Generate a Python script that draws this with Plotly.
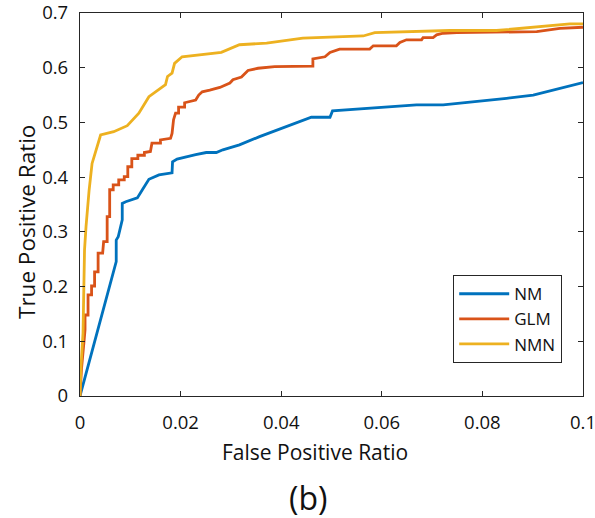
import plotly.graph_objects as go

# ROC curves (false positive ratio vs true positive ratio)
nm_fpr = [0, 0.0072, 0.0072, 0.0076, 0.0084, 0.0084, 0.0091, 0.0114, 0.0124, 0.0137,
          0.0157, 0.0183, 0.0184, 0.0193, 0.023, 0.0251, 0.0271, 0.0284, 0.0317, 0.0357,
          0.046, 0.0497, 0.0502, 0.0669, 0.0722, 0.0802, 0.0848, 0.0901, 0.1]
nm_tpr = [0, 0.2455, 0.285, 0.291, 0.322, 0.352, 0.355, 0.362, 0.377, 0.396,
          0.404, 0.408, 0.428, 0.433, 0.441, 0.445, 0.445, 0.450, 0.459, 0.474,
          0.5095, 0.5095, 0.521, 0.532, 0.532, 0.539, 0.544, 0.550, 0.573]

glm_fpr = [0, 0.0003, 0.0008, 0.001, 0.001, 0.0016, 0.0016, 0.0023, 0.0023, 0.0029,
           0.0029, 0.0036, 0.0036, 0.0045, 0.0047, 0.0054, 0.0054, 0.0059, 0.0059, 0.0066,
           0.0066, 0.0077, 0.0077, 0.0088, 0.0088, 0.0095, 0.0095, 0.0103, 0.0103, 0.0115,
           0.0115, 0.0128, 0.0128, 0.014, 0.0143, 0.016, 0.016, 0.018, 0.0183, 0.0186,
           0.019, 0.0196, 0.0196, 0.0208, 0.0208, 0.023, 0.0236, 0.0243, 0.0258, 0.0278,
           0.0298, 0.0304, 0.0321, 0.0334, 0.0354, 0.0387, 0.0463, 0.0463, 0.0487, 0.0497,
           0.0516, 0.0576, 0.0583, 0.0629, 0.0636, 0.0649, 0.0679, 0.0682, 0.0702, 0.0709,
           0.0722, 0.0749, 0.0908, 0.0928, 0.0954, 0.1]
glm_tpr = [0, 0.05, 0.10, 0.121, 0.148, 0.148, 0.185, 0.185, 0.201, 0.201,
           0.227, 0.227, 0.261, 0.261, 0.282, 0.282, 0.328, 0.328, 0.377, 0.377,
           0.386, 0.386, 0.395, 0.395, 0.401, 0.401, 0.419, 0.419, 0.434, 0.434,
           0.440, 0.440, 0.445, 0.447, 0.462, 0.462, 0.468, 0.471, 0.480, 0.505,
           0.517, 0.517, 0.528, 0.528, 0.536, 0.541, 0.550, 0.556, 0.559, 0.564,
           0.572, 0.578, 0.583, 0.595, 0.599, 0.602, 0.603, 0.616, 0.620, 0.628,
           0.634, 0.634, 0.640, 0.640, 0.646, 0.651, 0.651, 0.655, 0.655, 0.660,
           0.663, 0.664, 0.666, 0.669, 0.672, 0.674]

nmn_fpr = [0, 0.0002, 0.0006, 0.0009, 0.0012, 0.0014, 0.0018, 0.0024, 0.0034, 0.0041,
           0.0067, 0.0094, 0.0117, 0.0137, 0.017, 0.0174, 0.0183, 0.0188, 0.0203, 0.025,
           0.0281, 0.0317, 0.0371, 0.0443, 0.0563, 0.0586, 0.0735, 0.0828, 0.0901, 0.0974, 0.1]
nmn_tpr = [0, 0.054, 0.115, 0.267, 0.310, 0.334, 0.375, 0.425, 0.456, 0.477,
           0.483, 0.494, 0.517, 0.547, 0.569, 0.584, 0.590, 0.608, 0.620, 0.624,
           0.628, 0.642, 0.645, 0.654, 0.658, 0.664, 0.668, 0.668, 0.674, 0.680, 0.680]

x_ticks = [0, 0.02, 0.04, 0.06, 0.08, 0.1]
x_tick_text = ["0", "0.02", "0.04", "0.06", "0.08", "0.1"]
y_ticks = [0, 0.1, 0.2, 0.3, 0.4, 0.5, 0.6, 0.7]
y_tick_text = ["0", "0.1", "0.2", "0.3", "0.4", "0.5", "0.6", "0.7"]

FONT = "Open Sans"
INK = "#262626"
TEXT = "#111111"

series = [
    ("NM", nm_fpr, nm_tpr, "#0072BD"),
    ("GLM", glm_fpr, glm_tpr, "#D95319"),
    ("NMN", nmn_fpr, nmn_tpr, "#EDB120"),
]

fig = go.Figure()
for name, xs, ys, color in series:
    fig.add_trace(go.Scatter(x=xs, y=ys, mode="lines", name=name, legendgroup=name,
                             line=dict(color=color, width=2.8)))

axis_common = dict(
    showgrid=False, zeroline=False, showline=True, linecolor=INK, linewidth=1.3,
    mirror="ticks", ticks="inside", ticklen=5, tickwidth=1.2, tickcolor=INK,
    tickfont=dict(family=FONT, size=18.5, color=TEXT), automargin=False,
    ticklabeloverflow="allow",
)

fig.update_xaxes(range=[0, 0.1], tickvals=x_ticks, ticktext=x_tick_text,
                 ticklabelstandoff=10, **axis_common)
fig.update_yaxes(range=[0, 0.7], tickvals=y_ticks, ticktext=y_tick_text,
                 ticklabelstandoff=7, **axis_common)

# plot area spans x 80..583 px and y 13..396 px
PW, PH = 503, 383

fig.update_layout(
    width=595, height=518,
    margin=dict(l=80, r=12, t=13, b=122, autoexpand=False),
    paper_bgcolor="white", plot_bgcolor="white",
    font=dict(family=FONT, color=TEXT),
    legend=dict(x=(453 - 80) / PW, y=(396 - 275) / PH, xanchor="left", yanchor="top",
                bgcolor="white", bordercolor=INK, borderwidth=1.2,
                font=dict(family=FONT, size=17, color=TEXT),
                itemwidth=50, tracegroupgap=0, traceorder="grouped"),
    showlegend=True,
    annotations=[
        dict(text="False Positive Ratio", xref="paper", yref="paper",
             x=(315 - 80) / PW, y=-(452 - 396) / PH, xanchor="center", yanchor="middle",
             showarrow=False, font=dict(family=FONT, size=21, color=TEXT)),
        dict(text="True Positive Ratio", xref="paper", yref="paper",
             x=-(80 - 27) / PW, y=(396 - 222) / PH, xanchor="center", yanchor="middle",
             textangle=-90, showarrow=False, font=dict(family=FONT, size=22.5, color=TEXT)),
        dict(text="(b)", xref="paper", yref="paper",
             x=(308 - 80) / PW, y=-(497 - 396) / PH, xanchor="center", yanchor="middle",
             showarrow=False, font=dict(family=FONT, size=32, color=TEXT)),
    ],
)

fig.write_html("out.html")
